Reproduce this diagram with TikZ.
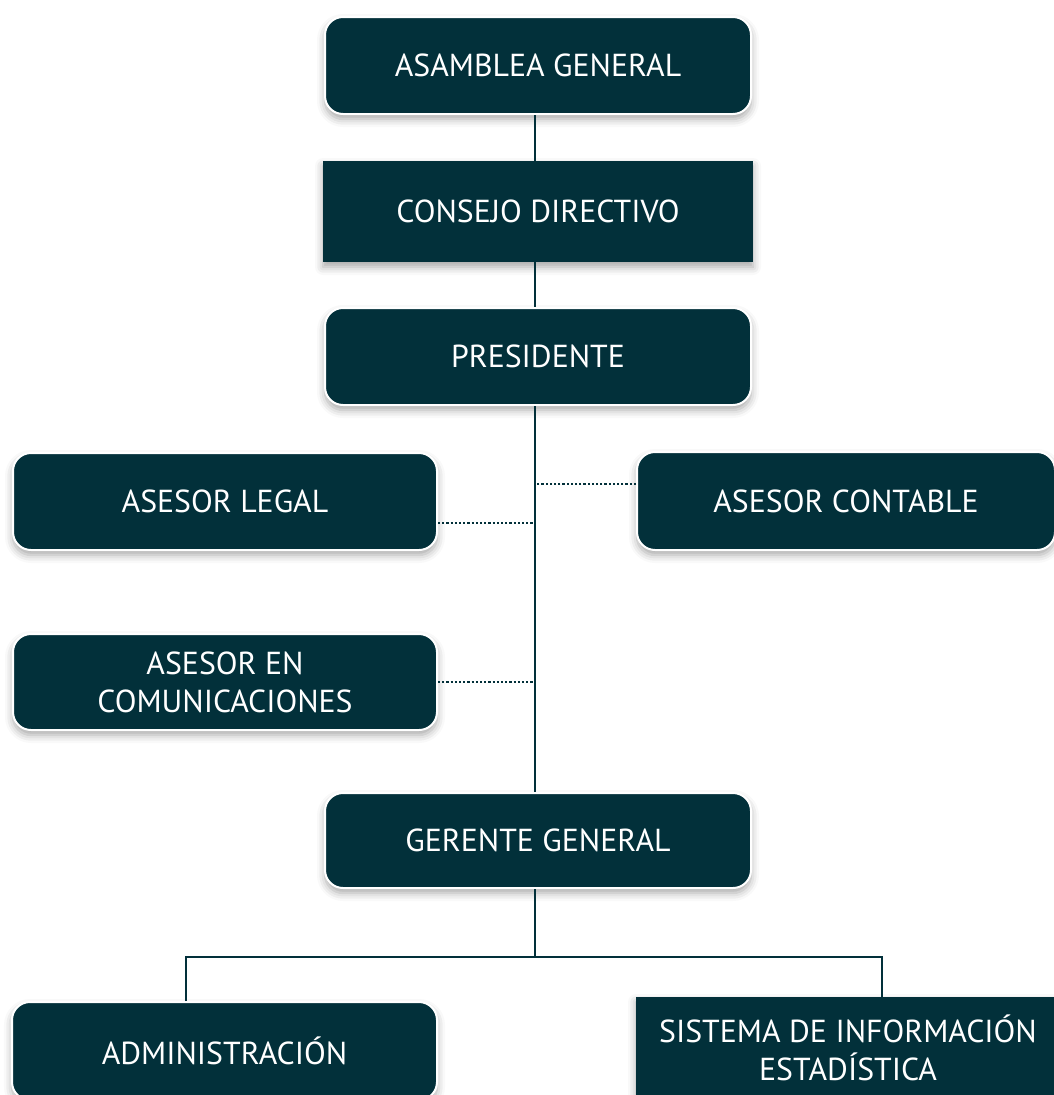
\documentclass[tikz,border=0pt]{standalone}
\usepackage{fontspec}
\setmainfont{PT Sans}
\usetikzlibrary{shadows.blur}
\definecolor{teal}{HTML}{02303A}
\tikzset{
  base/.style={fill=teal, text=white, align=center, inner sep=0pt,
    font=\fontsize{31.8}{38}\selectfont,
    blur shadow={shadow xshift=0pt, shadow yshift=-5pt, shadow blur radius=8pt, shadow opacity=35}},
  rbox/.style={base, rectangle, rounded corners=18pt, draw=white, line width=2pt},
  sbox/.style={base, rectangle},
  conn/.style={draw=teal, line width=2.6pt},
  dots/.style={draw=teal, line width=2.4pt, dash pattern=on 2.2pt off 2pt}
}
\begin{document}
\begin{tikzpicture}[x=1pt, y=-1pt]
\useasboundingbox (0,0) rectangle (1054,1095);
\node[rbox, minimum width=426pt, minimum height=97pt] (asam) at (538,65.5) {ASAMBLEA GENERAL};
\node[sbox, minimum width=430pt, minimum height=101pt] (cons) at (538,211.5) {CONSEJO DIRECTIVO};
\node[rbox, minimum width=426pt, minimum height=97pt] (pres) at (538,356.5) {PRESIDENTE};
\node[rbox, minimum width=424pt, minimum height=97pt] (legal) at (225,501.5) {ASESOR LEGAL};
\node[rbox, minimum width=418pt, minimum height=98pt] (cont) at (846,501) {ASESOR CONTABLE};
\node[rbox, minimum width=424pt, minimum height=96pt] (com) at (225,682) {ASESOR EN\\COMUNICACIONES};
\node[rbox, minimum width=426pt, minimum height=95pt] (ger) at (538,840.5) {GERENTE GENERAL};
\node[rbox, minimum width=425pt, minimum height=98pt] (adm) at (224.5,1051) {ADMINISTRACIÓN};
\node[sbox, minimum width=424pt, minimum height=102pt] (sis) at (848,1048) {SISTEMA DE INFORMACIÓN\\ESTADÍSTICA};
\coordinate (trunk) at (535,600);
\coordinate (dl) at (186,957);
\coordinate (dr) at (882,957);
\draw[conn] (asam.south -| trunk) -- (cons.north -| trunk);
\draw[conn] (cons.south -| trunk) -- (pres.north -| trunk);
\draw[conn] (pres.south -| trunk) -- (ger.north -| trunk);
\draw[conn] (ger.south -| trunk) -- (dl -| trunk);
\draw[conn] (dl |- adm.north) -- (dl) -- (dr) -- (dr |- sis.north);
\draw[dots] ([yshift=-21.5pt]legal.east) -- ([yshift=-21.5pt]legal.east -| trunk);
\draw[dots] ([yshift=17pt]cont.west) -- ([yshift=17pt]cont.west -| trunk);
\draw[dots] (com.east) -- (com.east -| trunk);
\end{tikzpicture}
\end{document}
